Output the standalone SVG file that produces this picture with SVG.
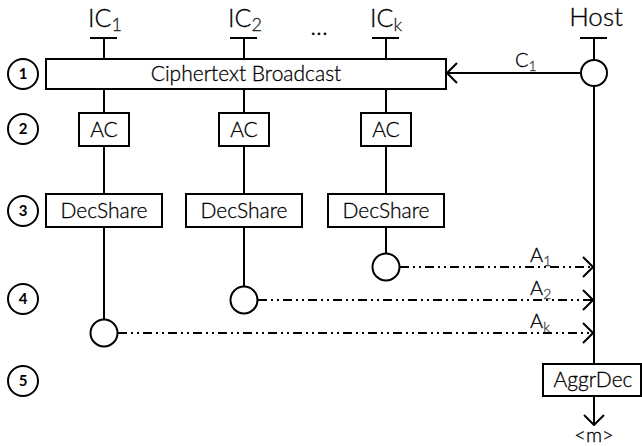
<svg xmlns="http://www.w3.org/2000/svg" width="642" height="446" viewBox="0 0 642 446">
<style>
text{font-family:Lato,"Liberation Sans",sans-serif;fill:#000;font-weight:300;stroke:#000;stroke-width:0.3}
.ln{stroke:#000;stroke-width:2;fill:none}
.box{stroke:#000;stroke-width:2;fill:#fff}
.pt{stroke:#000;stroke-width:2;fill:#fff}
.dd{stroke:#000;stroke-width:2;fill:none;stroke-dasharray:9 4 2 4 2 4}
.hd{font-size:25px;text-anchor:middle}
.bx{font-size:21px;text-anchor:middle}
.lb{font-size:20px}
.num{font-size:15px;font-weight:bold;text-anchor:middle;stroke:none}
.sub{font-size:18px;fill:#222;stroke:#222}
.sm{font-size:14px;fill:#444;stroke:#444}
</style>
<defs>
<marker id="open" viewBox="0 0 12 22" refX="11" refY="11" markerWidth="12" markerHeight="22" markerUnits="userSpaceOnUse" orient="auto">
<path d="M1,1 L11,11 L1,21" fill="none" stroke="#000" stroke-width="2"/>
</marker>
</defs>
<g id="steps">
<g id="step1"><circle cx="23" cy="74" r="15" class="pt"/><text x="23" y="79" class="num">1</text></g>
<g id="step2"><circle cx="23" cy="129" r="15" class="pt"/><text x="23" y="134" class="num">2</text></g>
<g id="step3"><circle cx="23" cy="211" r="15" class="pt"/><text x="23" y="216" class="num">3</text></g>
<g id="step4"><circle cx="23" cy="299" r="15" class="pt"/><text x="23" y="304" class="num">4</text></g>
<g id="step5"><circle cx="23" cy="381" r="15" class="pt"/><text x="23" y="386" class="num">5</text></g>
</g>
<g id="connectors">
<path class="ln" d="M90,38 H117 M104,38 V59 M104,89 V113 M104,146 V194 M104,227 V320"/>
<path class="ln" d="M230,38 H257 M244,38 V59 M244,89 V113 M244,146 V194 M244,227 V287"/>
<path class="ln" d="M372,38 H399 M386,38 V59 M386,89 V113 M386,146 V194 M386,227 V254"/>
<path class="ln" d="M580,38 H607 M594,38 V60 M594,86 V364"/>
<path class="ln" d="M581,73 H447" marker-end="url(#open)"/>
<path class="dd" d="M400,267 H593" marker-end="url(#open)"/>
<path class="dd" d="M258,300 H593" marker-end="url(#open)"/>
<path class="dd" d="M118,333 H593" marker-end="url(#open)"/>
<path class="ln" d="M594,396 V425" marker-end="url(#open)"/>
</g>
<g id="headers">
<text x="88" y="27" style="font-size:25px">IC<tspan class="sub" dy="4">1</tspan></text>
<text x="228" y="27" style="font-size:25px">IC<tspan class="sub" dy="4">2</tspan></text>
<text x="319" y="35" class="hd">...</text>
<text x="370" y="27" style="font-size:25px">IC<tspan class="sub" dy="4">k</tspan></text>
<text x="596" y="26" style="font-size:26px;text-anchor:middle">Host</text>
</g>
<g id="broadcast"><rect x="46" y="59" width="400" height="30" class="box"/><text x="246" y="81" class="bx">Ciphertext Broadcast</text></g>
<g id="ac1"><rect x="79" y="113" width="50" height="33" class="box"/><text x="104" y="137" class="bx">AC</text></g>
<g id="ac2"><rect x="219" y="113" width="50" height="33" class="box"/><text x="244" y="137" class="bx">AC</text></g>
<g id="ack"><rect x="361" y="113" width="50" height="33" class="box"/><text x="386" y="137" class="bx">AC</text></g>
<g id="ds1"><rect x="46" y="194" width="116" height="33" class="box"/><text x="104" y="218" class="bx">DecShare</text></g>
<g id="ds2"><rect x="186" y="194" width="116" height="33" class="box"/><text x="244" y="218" class="bx">DecShare</text></g>
<g id="dsk"><rect x="328" y="194" width="116" height="33" class="box"/><text x="386" y="218" class="bx">DecShare</text></g>
<g id="hostpt"><circle cx="594" cy="73" r="13" class="pt"/></g>
<g id="pt1"><circle cx="104" cy="333" r="13.5" class="pt"/></g>
<g id="pt2"><circle cx="244" cy="300" r="13.5" class="pt"/></g>
<g id="ptk"><circle cx="386" cy="267" r="13.5" class="pt"/></g>
<g id="labels">
<text x="515" y="67" class="lb">C<tspan class="sm" dy="4">1</tspan></text>
<text x="530" y="262" class="lb">A<tspan class="sm" dy="4">1</tspan></text>
<text x="530" y="295" class="lb">A<tspan class="sm" dy="4">2</tspan></text>
<text x="530" y="328" class="lb">A<tspan class="sm" dy="4">k</tspan></text>
</g>
<g id="aggr"><rect x="543" y="364" width="98" height="32" class="box"/><text x="593" y="387" class="bx">AggrDec</text></g>
<g id="out"><text x="594" y="442" style="font-size:20px;text-anchor:middle">&lt;m&gt;</text></g>
</svg>
